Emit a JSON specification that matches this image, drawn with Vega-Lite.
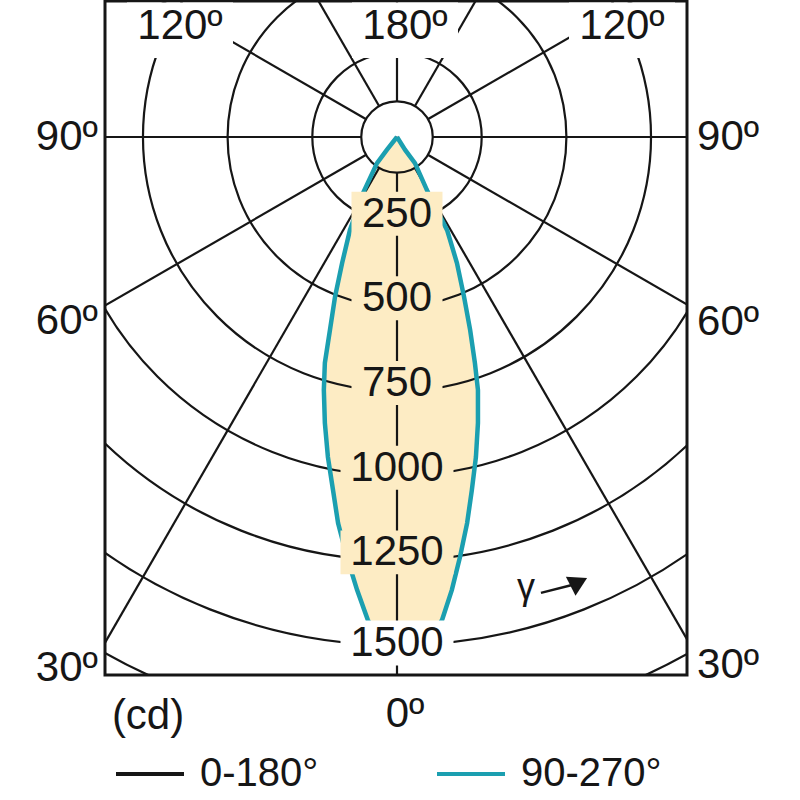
{
 "$schema": "https://vega.github.io/schema/vega-lite/v6.json",
 "width": 582, "height": 674,
 "autosize": {"type": "none"},
 "padding": {"left": 105, "top": 1, "right": 113, "bottom": 125},
 "background": "white",
 "config": {
  "view": {"stroke": "#161616", "strokeWidth": 3},
  "text": {"font": "Liberation Sans", "color": "#161616"},
  "legend": {"labelFont": "Liberation Sans", "labelFontSize": 40, "labelColor": "#161616", "symbolType": "stroke", "symbolSize": 4624, "symbolStrokeWidth": 4, "columnPadding": 110, "labelOffset": 14, "padding": 0, "labelLimit": 400}
 },
 "datasets": {
  "curve": [
   {"down": 0, "l": 0, "r": 0},
   {"down": 38, "l": -30, "r": 24},
   {"down": 77, "l": -59, "r": 53},
   {"down": 165, "l": -100, "r": 92},
   {"down": 275, "l": -139, "r": 148},
   {"down": 372, "l": -162, "r": 177},
   {"down": 472, "l": -183, "r": 198},
   {"down": 570, "l": -198, "r": 216},
   {"down": 667, "l": -213, "r": 230},
   {"down": 747, "l": -216, "r": 239},
   {"down": 844, "l": -213, "r": 239},
   {"down": 945, "l": -204, "r": 233},
   {"down": 1042, "l": -189, "r": 221},
   {"down": 1140, "l": -174, "r": 207},
   {"down": 1240, "l": -148, "r": 186},
   {"down": 1337, "l": -118, "r": 162},
   {"down": 1426, "l": -86, "r": 133},
   {"down": 1480, "l": -56, "r": 100},
   {"down": 1520, "l": -20, "r": 62},
   {"down": 1538, "l": 20, "r": 20}
  ],
  "circles": [{"cd": 250}, {"cd": 500}, {"cd": 750}, {"cd": 1000}, {"cd": 1250}, {"cd": 1500}, {"cd": 1750}],
  "rays": [
   {"gamma": 0, "x": 0, "y": 105, "x2": 0, "y2": 3000},
   {"gamma": 30, "x": 52.5, "y": 90.9, "x2": 1500, "y2": 2598},
   {"gamma": -30, "x": -52.5, "y": 90.9, "x2": -1500, "y2": 2598},
   {"gamma": 60, "x": 90.9, "y": 52.5, "x2": 2598, "y2": 1500},
   {"gamma": -60, "x": -90.9, "y": 52.5, "x2": -2598, "y2": 1500},
   {"gamma": 90, "x": 105, "y": 0, "x2": 3000, "y2": 0},
   {"gamma": -90, "x": -105, "y": 0, "x2": -3000, "y2": 0},
   {"gamma": 120, "x": 90.9, "y": -52.5, "x2": 2598, "y2": -1500},
   {"gamma": -120, "x": -90.9, "y": -52.5, "x2": -2598, "y2": -1500},
   {"gamma": 150, "x": 52.5, "y": -90.9, "x2": 1500, "y2": -2598},
   {"gamma": -150, "x": -52.5, "y": -90.9, "x2": -1500, "y2": -2598},
   {"gamma": 180, "x": 0, "y": -105, "x2": 0, "y2": -3000}
  ],
  "cdlabels": [
   {"cd": 250, "label": "250"}, {"cd": 500, "label": "500"}, {"cd": 750, "label": "750"},
   {"cd": 1000, "label": "1000"}, {"cd": 1250, "label": "1250"}, {"cd": 1500, "label": "1500"}
  ],
  "toplabels": [
   {"x": -640.7, "y": -315.2, "label": "120º"},
   {"x": 23.6, "y": -315.2, "label": "180º"},
   {"x": 664.3, "y": -315.2, "label": "120º"}
  ],
  "sidelabels": [
   {"x": -883, "y": 0, "label": "90º", "side": "left"},
   {"x": -883, "y": 543, "label": "60º", "side": "left"},
   {"x": -883, "y": 1568, "label": "30º", "side": "left"},
   {"x": 886, "y": 0, "label": "90º", "side": "right"},
   {"x": 886, "y": 546, "label": "60º", "side": "right"},
   {"x": 886, "y": 1559, "label": "30º", "side": "right"}
  ],
  "bottomlabels": [
   {"x": -735, "y": 1709, "label": "(cd)"},
   {"x": 23.6, "y": 1704, "label": "0º"}
  ],
  "gamma": [{"x": 381, "y": 1332, "label": "γ"}],
  "arrow": [{"x": 425, "y": 1346, "x2": 516.7, "y2": 1322.7, "hx": 537, "hy": 1314}]
 },
 "layer": [
  {
   "data": {"name": "curve"},
   "mark": {"type": "area", "orient": "horizontal", "color": "#fdecc4", "opacity": 1},
   "encoding": {
    "y": {"field": "down", "type": "quantitative", "scale": {"domain": [-401.5, 1588.4], "reverse": true, "nice": false, "zero": false}, "axis": null},
    "x": {"field": "l", "type": "quantitative", "scale": {"domain": [-862.1, 856.2], "nice": false, "zero": false}, "axis": null},
    "x2": {"field": "r"}
   }
  },
  {
   "data": {"name": "circles"},
   "mark": {"type": "arc", "theta": 0, "theta2": 6.2832, "filled": false, "stroke": "#161616", "strokeWidth": 2.2, "clip": true},
   "encoding": {
    "x": {"datum": 0, "type": "quantitative", "scale": {"domain": [-862.1, 856.2], "nice": false, "zero": false}, "axis": null},
    "y": {"datum": 0, "type": "quantitative", "scale": {"domain": [-401.5, 1588.4], "reverse": true, "nice": false, "zero": false}, "axis": null},
    "radius": {"field": "cd", "type": "quantitative", "stack": null, "scale": {"type": "linear", "domain": [0, 1000], "range": [0, 338.7], "zero": true, "nice": false}, "legend": null}
   }
  },
  {
   "data": {"values": [{"hole": 105}]},
   "mark": {"type": "arc", "theta": 0, "theta2": 6.2832, "filled": false, "stroke": "#161616", "strokeWidth": 2.2, "clip": true},
   "encoding": {
    "x": {"datum": 0, "type": "quantitative", "scale": {"domain": [-862.1, 856.2], "nice": false, "zero": false}, "axis": null},
    "y": {"datum": 0, "type": "quantitative", "scale": {"domain": [-401.5, 1588.4], "reverse": true, "nice": false, "zero": false}, "axis": null},
    "radius": {"field": "hole", "type": "quantitative", "stack": null, "scale": {"type": "linear", "domain": [0, 1000], "range": [0, 338.7], "zero": true, "nice": false}, "legend": null}
   }
  },
  {
   "data": {"name": "rays"},
   "mark": {"type": "rule", "stroke": "#161616", "strokeWidth": 2.2, "clip": true},
   "encoding": {
    "x": {"field": "x", "type": "quantitative", "scale": {"domain": [-862.1, 856.2], "nice": false, "zero": false}, "axis": null},
    "y": {"field": "y", "type": "quantitative", "scale": {"domain": [-401.5, 1588.4], "reverse": true, "nice": false, "zero": false}, "axis": null},
    "x2": {"field": "x2"},
    "y2": {"field": "y2"}
   }
  },
  {
   "data": {"name": "curve"},
   "mark": {"type": "line", "strokeWidth": 2},
   "encoding": {
    "x": {"field": "l", "type": "quantitative", "scale": {"domain": [-862.1, 856.2], "nice": false, "zero": false}, "axis": null},
    "y": {"field": "down", "type": "quantitative", "scale": {"domain": [-401.5, 1588.4], "reverse": true, "nice": false, "zero": false}, "axis": null},
    "order": {"field": "down", "type": "quantitative"},
    "color": {"datum": "0-180°", "scale": {"domain": ["0-180°", "90-270°"], "range": ["#161616", "#1b9fb0"]}, "legend": {"orient": "none", "legendX": 9, "legendY": 737, "direction": "horizontal", "title": null}}
   }
  },
  {
   "data": {"name": "curve"},
   "mark": {"type": "line", "strokeWidth": 2},
   "encoding": {
    "x": {"field": "r", "type": "quantitative", "scale": {"domain": [-862.1, 856.2], "nice": false, "zero": false}, "axis": null},
    "y": {"field": "down", "type": "quantitative", "scale": {"domain": [-401.5, 1588.4], "reverse": true, "nice": false, "zero": false}, "axis": null},
    "order": {"field": "down", "type": "quantitative"},
    "color": {"datum": "0-180°", "scale": {"domain": ["0-180°", "90-270°"], "range": ["#161616", "#1b9fb0"]}, "legend": {"orient": "none", "legendX": 9, "legendY": 737, "direction": "horizontal", "title": null}}
   }
  },
  {
   "data": {"name": "curve"},
   "mark": {"type": "line", "strokeWidth": 4.5},
   "encoding": {
    "x": {"field": "l", "type": "quantitative", "scale": {"domain": [-862.1, 856.2], "nice": false, "zero": false}, "axis": null},
    "y": {"field": "down", "type": "quantitative", "scale": {"domain": [-401.5, 1588.4], "reverse": true, "nice": false, "zero": false}, "axis": null},
    "order": {"field": "down", "type": "quantitative"},
    "color": {"datum": "90-270°", "scale": {"domain": ["0-180°", "90-270°"], "range": ["#161616", "#1b9fb0"]}, "legend": {"orient": "none", "legendX": 9, "legendY": 737, "direction": "horizontal", "title": null}}
   }
  },
  {
   "data": {"name": "curve"},
   "mark": {"type": "line", "strokeWidth": 4.5},
   "encoding": {
    "x": {"field": "r", "type": "quantitative", "scale": {"domain": [-862.1, 856.2], "nice": false, "zero": false}, "axis": null},
    "y": {"field": "down", "type": "quantitative", "scale": {"domain": [-401.5, 1588.4], "reverse": true, "nice": false, "zero": false}, "axis": null},
    "order": {"field": "down", "type": "quantitative"},
    "color": {"datum": "90-270°", "scale": {"domain": ["0-180°", "90-270°"], "range": ["#161616", "#1b9fb0"]}, "legend": {"orient": "none", "legendX": 9, "legendY": 737, "direction": "horizontal", "title": null}}
   }
  },
  {
   "data": {"name": "cdlabels"},
   "transform": [{"filter": "datum.cd < 1000"}],
   "mark": {"type": "point", "shape": "M-1,-0.484H1V0.484H-1Z", "size": 8281, "filled": true, "opacity": 1, "strokeWidth": 0, "yOffset": -8, "fill": "#fdecc4"},
   "encoding": {
    "x": {"datum": 0, "type": "quantitative", "scale": {"domain": [-862.1, 856.2], "nice": false, "zero": false}, "axis": null},
    "y": {"field": "cd", "type": "quantitative", "scale": {"domain": [-401.5, 1588.4], "reverse": true, "nice": false, "zero": false}, "axis": null}
   }
  },
  {
   "data": {"name": "cdlabels"},
   "transform": [{"filter": "datum.cd >= 1000 && datum.cd < 1500"}],
   "mark": {"type": "point", "shape": "M-1,-0.389H1V0.389H-1Z", "size": 12769, "filled": true, "opacity": 1, "strokeWidth": 0, "yOffset": -8, "fill": "#fdecc4"},
   "encoding": {
    "x": {"datum": 0, "type": "quantitative", "scale": {"domain": [-862.1, 856.2], "nice": false, "zero": false}, "axis": null},
    "y": {"field": "cd", "type": "quantitative", "scale": {"domain": [-401.5, 1588.4], "reverse": true, "nice": false, "zero": false}, "axis": null}
   }
  },
  {
   "data": {"name": "cdlabels"},
   "transform": [{"filter": "datum.cd == 1500"}],
   "mark": {"type": "point", "shape": "M-1,-0.398H1V0.398H-1Z", "size": 12769, "filled": true, "opacity": 1, "strokeWidth": 0, "yOffset": -2, "fill": "white"},
   "encoding": {
    "x": {"datum": 0, "type": "quantitative", "scale": {"domain": [-862.1, 856.2], "nice": false, "zero": false}, "axis": null},
    "y": {"field": "cd", "type": "quantitative", "scale": {"domain": [-401.5, 1588.4], "reverse": true, "nice": false, "zero": false}, "axis": null}
   }
  },
  {
   "data": {"name": "toplabels"},
   "mark": {"type": "point", "shape": "M-1,-0.5236H1V0.5236H-1Z", "size": 11236, "filled": true, "opacity": 1, "strokeWidth": 0, "fill": "white"},
   "encoding": {
    "x": {"field": "x", "type": "quantitative", "scale": {"domain": [-862.1, 856.2], "nice": false, "zero": false}, "axis": null},
    "y": {"field": "y", "type": "quantitative", "scale": {"domain": [-401.5, 1588.4], "reverse": true, "nice": false, "zero": false}, "axis": null}
   }
  },
  {
   "data": {"name": "cdlabels"},
   "transform": [{"filter": "datum.cd < 1500"}],
   "mark": {"type": "text", "fontSize": 42, "baseline": "middle", "align": "center", "dy": -8},
   "encoding": {
    "x": {"datum": 0, "type": "quantitative", "scale": {"domain": [-862.1, 856.2], "nice": false, "zero": false}, "axis": null},
    "y": {"field": "cd", "type": "quantitative", "scale": {"domain": [-401.5, 1588.4], "reverse": true, "nice": false, "zero": false}, "axis": null},
    "text": {"field": "label"}
   }
  },
  {
   "data": {"name": "cdlabels"},
   "transform": [{"filter": "datum.cd == 1500"}],
   "mark": {"type": "text", "fontSize": 42, "baseline": "middle", "align": "center", "dy": -2},
   "encoding": {
    "x": {"datum": 0, "type": "quantitative", "scale": {"domain": [-862.1, 856.2], "nice": false, "zero": false}, "axis": null},
    "y": {"field": "cd", "type": "quantitative", "scale": {"domain": [-401.5, 1588.4], "reverse": true, "nice": false, "zero": false}, "axis": null},
    "text": {"field": "label"}
   }
  },
  {
   "data": {"name": "toplabels"},
   "mark": {"type": "text", "fontSize": 42, "baseline": "middle", "align": "center", "dy": -4},
   "encoding": {
    "x": {"field": "x", "type": "quantitative", "scale": {"domain": [-862.1, 856.2], "nice": false, "zero": false}, "axis": null},
    "y": {"field": "y", "type": "quantitative", "scale": {"domain": [-401.5, 1588.4], "reverse": true, "nice": false, "zero": false}, "axis": null},
    "text": {"field": "label"}
   }
  },
  {
   "data": {"name": "sidelabels"},
   "transform": [{"filter": "datum.side == 'left'"}],
   "mark": {"type": "text", "fontSize": 42, "baseline": "middle", "align": "right"},
   "encoding": {
    "x": {"field": "x", "type": "quantitative", "scale": {"domain": [-862.1, 856.2], "nice": false, "zero": false}, "axis": null},
    "y": {"field": "y", "type": "quantitative", "scale": {"domain": [-401.5, 1588.4], "reverse": true, "nice": false, "zero": false}, "axis": null},
    "text": {"field": "label"}
   }
  },
  {
   "data": {"name": "sidelabels"},
   "transform": [{"filter": "datum.side == 'right'"}],
   "mark": {"type": "text", "fontSize": 42, "baseline": "middle", "align": "left"},
   "encoding": {
    "x": {"field": "x", "type": "quantitative", "scale": {"domain": [-862.1, 856.2], "nice": false, "zero": false}, "axis": null},
    "y": {"field": "y", "type": "quantitative", "scale": {"domain": [-401.5, 1588.4], "reverse": true, "nice": false, "zero": false}, "axis": null},
    "text": {"field": "label"}
   }
  },
  {
   "data": {"name": "bottomlabels"},
   "mark": {"type": "text", "fontSize": 42, "baseline": "middle", "align": "center"},
   "encoding": {
    "x": {"field": "x", "type": "quantitative", "scale": {"domain": [-862.1, 856.2], "nice": false, "zero": false}, "axis": null},
    "y": {"field": "y", "type": "quantitative", "scale": {"domain": [-401.5, 1588.4], "reverse": true, "nice": false, "zero": false}, "axis": null},
    "text": {"field": "label"}
   }
  },
  {
   "data": {"name": "gamma"},
   "mark": {"type": "text", "fontSize": 36, "baseline": "middle", "align": "center"},
   "encoding": {
    "x": {"field": "x", "type": "quantitative", "scale": {"domain": [-862.1, 856.2], "nice": false, "zero": false}, "axis": null},
    "y": {"field": "y", "type": "quantitative", "scale": {"domain": [-401.5, 1588.4], "reverse": true, "nice": false, "zero": false}, "axis": null},
    "text": {"field": "label"}
   }
  },
  {
   "data": {"name": "arrow"},
   "mark": {"type": "rule", "stroke": "#161616", "strokeWidth": 2.5},
   "encoding": {
    "x": {"field": "x", "type": "quantitative", "scale": {"domain": [-862.1, 856.2], "nice": false, "zero": false}, "axis": null},
    "y": {"field": "y", "type": "quantitative", "scale": {"domain": [-401.5, 1588.4], "reverse": true, "nice": false, "zero": false}, "axis": null},
    "x2": {"field": "x2"},
    "y2": {"field": "y2"}
   }
  },
  {
   "data": {"name": "arrow"},
   "mark": {"type": "point", "shape": "triangle-right", "size": 450, "filled": true, "opacity": 1, "fill": "#161616", "strokeWidth": 0, "angle": -27},
   "encoding": {
    "x": {"field": "hx", "type": "quantitative", "scale": {"domain": [-862.1, 856.2], "nice": false, "zero": false}, "axis": null},
    "y": {"field": "hy", "type": "quantitative", "scale": {"domain": [-401.5, 1588.4], "reverse": true, "nice": false, "zero": false}, "axis": null}
   }
  }
 ]
}
